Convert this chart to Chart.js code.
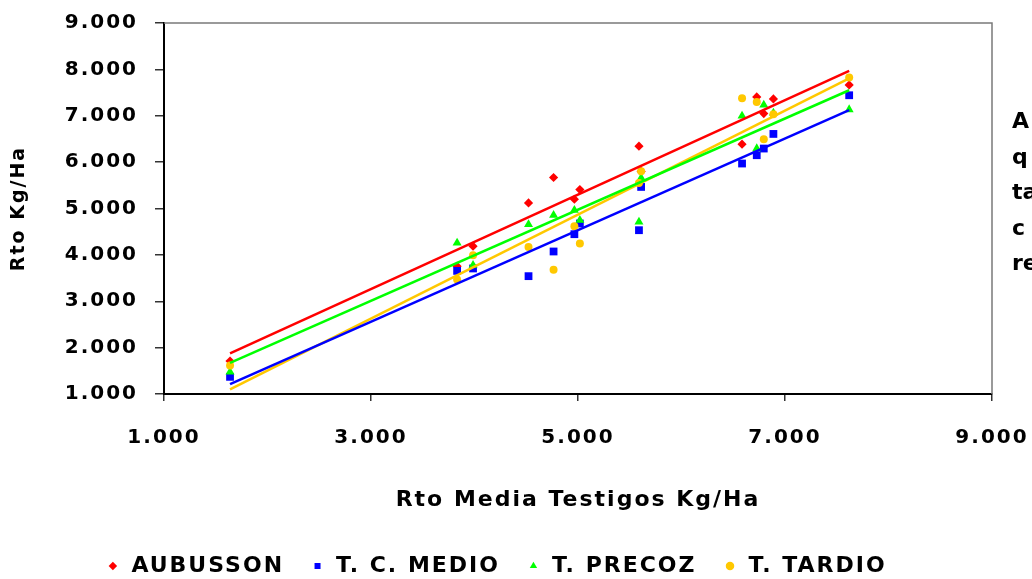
<!DOCTYPE html>
<html>
<head>
<meta charset="utf-8">
<script src="https://cdn.jsdelivr.net/npm/chart.js@4.4.1/dist/chart.umd.min.js"></script>
<style>
  html, body { margin: 0; padding: 0; background: #fff; overflow: hidden; }
  #wrap { position: relative; width: 1032px; height: 579px; overflow: hidden; }
  #note {
    position: absolute; left: 1012px; top: 103px;
    font: bold 22px 'DejaVu Sans', sans-serif; line-height: 35.5px;
    white-space: pre; color: #000;
  }
</style>
</head>
<body>
<div id="wrap">
  <canvas id="chart" width="1032" height="579"></canvas>
  <div id="note">A
q
ta
c
re</div>
</div>
<script>
// Rto media de los testigos (eje X), uno por ensayo
const testigos = [1638, 3832, 3986, 4522, 4764, 4965, 5018, 5589, 5610, 6585, 6727, 6795, 6888, 7620];

// Rto de cada variedad en esos ensayos
const aubusson = [1709, 3756, 4188, 5121, 5668, 5200, 5409, 6343, 5800, 6386, 7405, 7047, 7362, 7664];
const tcMedio  = [1370, 3655, 3707, 3541, 4073, 4446, 4677, 4532, 5465, 5970, 6149, 6293, 6608, 7442];
const tPrecoz  = [1478, 4259, 3778, 4655, 4855, 4963, 4748, 4711, 5659, 6996, 6293, 7233, 7060, 7134];
const tTardio  = [1616, 3470, 3993, 4172, 3677, 4619, 4246, 5552, 5804, 7377, 7297, 6493, 7031, 7823];

// Lineas de tendencia: extremos (x inicial / x final)
const trendX        = [1638, 7620];
const trendAubusson = [1875, 7970];
const trendMedio    = [1213, 7119];
const trendPrecoz   = [1672, 7550];
const trendTardio   = [1099, 7805];

const seriesNames = ['AUBUSSON', 'T. C. MEDIO', 'T. PRECOZ', 'T. TARDIO'];
const xTickLabels = ['1.000', '3.000', '5.000', '7.000', '9.000'];
const yTickLabels = ['1.000', '2.000', '3.000', '4.000', '5.000', '6.000', '7.000', '8.000', '9.000'];

const colors = ['#ff0000', '#0000ff', '#00ff00', '#ffc800'];
const FONT = "'DejaVu Sans', sans-serif";

function toPoints(xs, ys) {
  return xs.map((x, i) => ({ x: x, y: ys[i] }));
}

function pointSet(label, ys, color, style, radius, order) {
  return {
    type: 'scatter',
    label: label,
    data: toPoints(testigos, ys),
    pointStyle: style,
    pointRadius: radius,
    pointHoverRadius: radius,
    backgroundColor: color,
    borderColor: color,
    borderWidth: 0,
    order: order
  };
}

function trendSet(ys, color) {
  return {
    type: 'line',
    label: 'trend',
    data: toPoints(trendX, ys),
    borderColor: color,
    backgroundColor: color,
    borderWidth: 2.5,
    pointRadius: 0,
    showLine: true,
    fill: false,
    order: 1
  };
}

// letter spacing roughly imitates the wide original font
const spacingPlugin = {
  id: 'spacing',
  beforeUpdate(chart) { chart.ctx.letterSpacing = '2px'; },
  beforeDraw(chart) { chart.ctx.letterSpacing = '2px'; },
  afterLayout(chart) {
    // drop legend a bit lower, as in the original
    if (chart.legend) { chart.legend.top += 8; chart.legend.bottom += 8; }
  }
};

// grey frame on top and right of the plot area
const framePlugin = {
  id: 'frame',
  beforeDatasetsDraw(chart) {
    const { ctx, chartArea: a } = chart;
    ctx.save();
    ctx.strokeStyle = '#7a7a7a';
    ctx.lineWidth = 1.5;
    ctx.beginPath();
    ctx.moveTo(a.left, a.top);
    ctx.lineTo(a.right, a.top);
    ctx.lineTo(a.right, a.bottom);
    ctx.stroke();
    ctx.restore();
  }
};

new Chart(document.getElementById('chart'), {
  type: 'scatter',
  data: {
    datasets: [
      pointSet(seriesNames[0], aubusson, colors[0], 'rectRot', 4.6, 5),
      pointSet(seriesNames[1], tcMedio, colors[1], 'rect', 5.5, 4),
      pointSet(seriesNames[2], tPrecoz, colors[2], 'triangle', 5.2, 3),
      pointSet(seriesNames[3], tTardio, colors[3], 'circle', 4, 2),
      trendSet(trendAubusson, colors[0]),
      trendSet(trendMedio, colors[1]),
      trendSet(trendPrecoz, colors[2]),
      trendSet(trendTardio, colors[3])
    ]
  },
  plugins: [spacingPlugin, framePlugin],
  options: {
    responsive: false,
    animation: false,
    devicePixelRatio: 1,
    layout: { padding: { top: 23, right: 40, left: 0, bottom: 0 } },
    plugins: {
      tooltip: { enabled: false },
      legend: {
        position: 'bottom',
        labels: {
          usePointStyle: true,
          boxWidth: 15,
          boxHeight: 6,
          padding: 26,
          color: '#000',
          font: { family: FONT, size: 22, weight: 'bold' },
          filter: (item) => item.datasetIndex < 4,
          sort: (a, b) => a.datasetIndex - b.datasetIndex
        }
      }
    },
    scales: {
      x: {
        type: 'linear',
        min: 1000,
        max: 9000,
        afterFit(scale) {
          scale.height = 127;
          scale.paddingLeft = 0;
          scale.paddingRight = 0;
        },
        ticks: {
          stepSize: 2000,
          autoSkip: false,
          maxRotation: 0,
          padding: 25,
          color: '#000',
          font: { family: FONT, size: 20, weight: 'bold' },
          callback: (v, i) => xTickLabels[i]
        },
        grid: { drawOnChartArea: false, drawTicks: true, tickLength: 7, color: '#333', lineWidth: 1.5 },
        border: { display: true, color: '#000', width: 2 },
        title: {
          display: true,
          text: 'Rto Media Testigos Kg/Ha',
          color: '#000',
          font: { family: FONT, size: 22, weight: 'bold' },
          padding: { top: 0, bottom: 8 }
        }
      },
      y: {
        type: 'linear',
        min: 1000,
        max: 9000,
        afterFit(scale) {
          scale.width = 164;
          scale.paddingTop = 0;
          scale.paddingBottom = 0;
        },
        ticks: {
          stepSize: 1000,
          autoSkip: false,
          padding: 17,
          color: '#000',
          font: { family: FONT, size: 20, weight: 'bold' },
          callback: (v, i) => yTickLabels[i]
        },
        grid: { drawOnChartArea: false, drawTicks: true, tickLength: 9, color: '#333', lineWidth: 1.5 },
        border: { display: true, color: '#000', width: 2 },
        title: {
          display: true,
          text: 'Rto Kg/Ha',
          color: '#000',
          font: { family: FONT, size: 19, weight: 'bold' },
          padding: { top: 8, bottom: 0 }
        }
      }
    }
  }
});
</script>
</body>
</html>
